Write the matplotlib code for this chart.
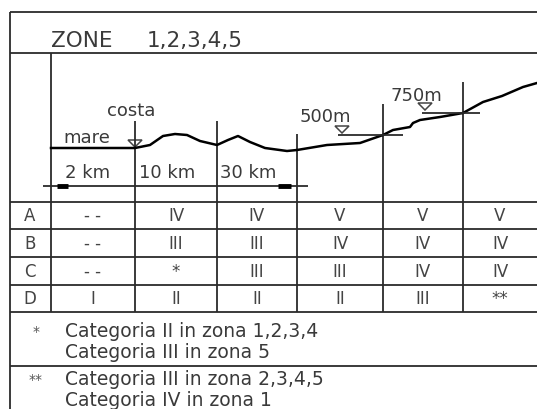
import matplotlib.pyplot as plt
from matplotlib.patches import Polygon

# data
title = "ZONE   1,2,3,4,5"
row_labels = ["A", "B", "C", "D"]
cat_table = [
    ["- -", "IV", "IV", "V", "V", "V"],
    ["- -", "III", "III", "IV", "IV", "IV"],
    ["- -", "*", "III", "III", "IV", "IV"],
    ["I", "II", "II", "II", "III", "**"],
]
distance_labels = ["2 km", "10 km", "30 km"]
notes = [
    ("*", ["Categoria II in zona 1,2,3,4", "Categoria III in zona 5"]),
    ("**", ["Categoria III in zona 2,3,4,5", "Categoria IV in zona 1"]),
]
# terrain profile (horizontal position, height on the drawing)
profile_x = [51, 135, 150, 163, 175, 187, 200, 217, 228, 238, 250, 265, 287,
             297, 327, 360, 383, 393, 410, 413, 420, 440, 463, 483, 502, 523, 537]
profile_y = [149, 149, 146, 137, 135, 136, 142, 146, 141, 137, 143, 149, 152,
             151, 146, 144, 136, 131, 128, 124, 121, 118, 114, 103, 97, 88, 84]

LC = "#2b2b2b"
TC = "#3a3a3a"
FONT = "DejaVu Sans"

fig = plt.figure(figsize=(5.37, 4.10), dpi=100)
ax = fig.add_axes([0, 0, 1, 1])
ax.set_xlim(0, 537)
ax.set_ylim(410, 0)
ax.axis("off")

def hline(y, x0=10, x1=537, lw=1.3):
    ax.plot([x0, x1], [y, y], color=LC, lw=lw, solid_capstyle="butt")

def vline(x, y0, y1, lw=1.3):
    ax.plot([x, x], [y0, y1], color=LC, lw=lw, solid_capstyle="butt")

# frame
hline(13)
hline(54)
vline(10, 13, 410)

# column boundaries and their start heights
col_x = [51, 135, 217, 297, 383, 463]
col_top = [54, 122, 122, 135, 105, 83]
for x, y0 in zip(col_x, col_top):
    vline(x, y0, 313)

# table rows
row_y = [203, 230, 258, 286, 313]
for y in row_y:
    hline(y)
hline(367)

ax.text(51, 41, "ZONE", fontsize=15.5, family=FONT, color=TC, va="center", ha="left")
ax.text(147, 41, title.split()[-1], fontsize=15.5, family=FONT, color=TC, va="center", ha="left")

# terrain
ax.plot(profile_x, profile_y, color="black", lw=1.8)

def marker(x, y_top, size=7):
    tri = Polygon([(x - size, y_top), (x + size, y_top), (x, y_top + size)],
                  closed=True, fill=False, edgecolor="#444444", lw=1.1)
    ax.add_patch(tri)

# costa / mare
marker(135, 141)
ax.text(131, 111, "costa", fontsize=13, family=FONT, color=TC, ha="center", va="center")
ax.text(63, 138, "mare", fontsize=13, family=FONT, color=TC, ha="left", va="center")

# elevation levels
hline(136, 338, 403)
marker(342, 127, 7)
ax.text(300, 117, "500m", fontsize=13, family=FONT, color=TC, ha="left", va="center")
hline(114, 422, 480)
marker(425, 104, 7)
ax.text(390, 96, "750m", fontsize=13, family=FONT, color=TC, ha="left", va="center")

# distance line
hline(187, 43, 308)
ax.plot([57, 68], [187, 187], color="black", lw=3.5, solid_capstyle="butt")
ax.plot([278, 291], [187, 187], color="black", lw=3.5, solid_capstyle="butt")
for x, lab in zip([65, 139, 220], distance_labels):
    ax.text(x, 173, lab, fontsize=13, family=FONT, color=TC, ha="left", va="center")

# table content
edges = col_x + [537]
for i, (lab, vals) in enumerate(zip(row_labels, cat_table)):
    yc = (row_y[i] + row_y[i + 1]) / 2
    ax.text(30, yc, lab, fontsize=12, family=FONT, color="#444444", ha="center", va="center")
    for j, v in enumerate(vals):
        xc = (edges[j] + edges[j + 1]) / 2
        ax.text(xc, yc, v, fontsize=12, family=FONT, color="#444444", ha="center", va="center")

# footnotes
for (sym, lines), y0 in zip(notes, [332, 380]):
    ax.text(36, y0, sym, fontsize=10, family=FONT, color="#555555", ha="center", va="center")
    for k, line in enumerate(lines):
        ax.text(65, y0 + 21 * k, line, fontsize=13.5, family=FONT, color=TC, ha="left", va="center")

fig.savefig("out.png", dpi=100, facecolor="white")
